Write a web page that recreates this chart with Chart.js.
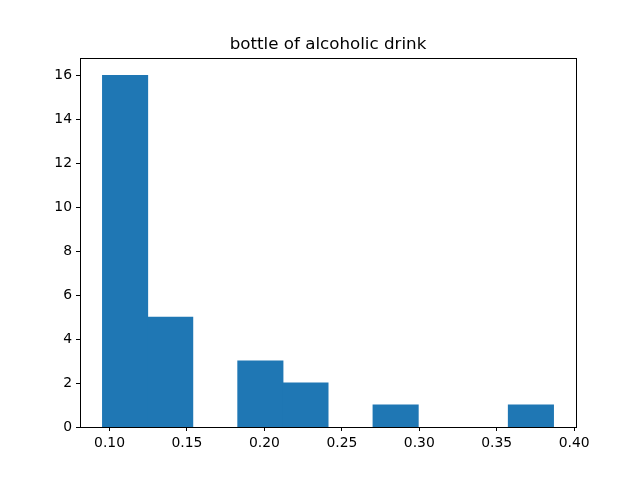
<!DOCTYPE html>
<html>
<head>
<meta charset="utf-8">
<script src="https://cdn.jsdelivr.net/npm/chart.js@4"></script>
<style>
html,body{margin:0;padding:0;background:#fff;}
#wrap{width:640px;height:480px;}
</style>
</head>
<body>
<div id="wrap"><canvas id="c" width="640" height="480"></canvas></div>
<script>
const titleText = "bottle of alcoholic drink";
const binStart = 0.09547;
const binWidth = 0.029115;
const counts = [16, 5, 0, 3, 2, 0, 1, 0, 0, 1];
const xTicks = [0.10, 0.15, 0.20, 0.25, 0.30, 0.35, 0.40];
const yTicks = [0, 2, 4, 6, 8, 10, 12, 14, 16];

const binCenters = counts.map((_, i) => binStart + binWidth * (i + 0.5));
const dataPts = counts.map((c, i) => ({x: binCenters[i], y: c === 0 ? null : c}));
const span = binWidth * counts.length;
const xMin = binStart - 0.05 * span;
const xMax = binStart + span + 0.05 * span;
const yMax = Math.max(...counts) * 1.05;

const frame = {
  id: 'frame',
  afterDraw(chart) {
    const {ctx, chartArea: a} = chart;
    ctx.save();
    ctx.strokeStyle = '#000';
    ctx.lineWidth = 1;
    ctx.strokeRect(Math.round(a.left) + 0.5, Math.round(a.top) + 0.5, Math.round(a.right - a.left), Math.round(a.bottom - a.top));
    ctx.fillStyle = '#000';
    ctx.font = '16.7px "DejaVu Sans"';
    ctx.textAlign = 'center';
    ctx.textBaseline = 'alphabetic';
    ctx.fillText(titleText, (a.left + a.right) / 2, 49);
    ctx.restore();
  }
};

const tickFont = {family: '"DejaVu Sans"', size: 13.9};

new Chart(document.getElementById('c'), {
  type: 'bar',
  data: {
    datasets: [{
      data: dataPts,
      backgroundColor: '#1f77b4',
      borderWidth: 0,
      inflateAmount: 0.5,
      barPercentage: 1.0,
      categoryPercentage: 1.0
    }]
  },
  options: {
    responsive: false,
    animation: false,
    devicePixelRatio: 1,
    layout: {padding: {left: 0, right: 64, top: 58, bottom: 0}},
    plugins: {legend: {display: false}, tooltip: {enabled: false}, title: {display: false}},
    scales: {
      x: {
        type: 'linear',
        min: xMin,
        max: xMax,
        offset: false,
        afterBuildTicks: s => { s.ticks = xTicks.map(v => ({value: v})); },
        afterFit: s => { s.height = 53; },
        ticks: {
          color: '#000',
          font: tickFont,
          padding: 4,
          maxRotation: 0,
          autoSkip: false,
          callback: v => Number(v).toFixed(2)
        },
        grid: {offset: false, drawOnChartArea: false, drawTicks: true, tickLength: 4, color: '#000', tickWidth: 1},
        border: {display: true, color: '#000', width: 1}
      },
      y: {
        type: 'linear',
        min: 0,
        max: yMax,
        afterBuildTicks: s => { s.ticks = yTicks.map(v => ({value: v})); },
        afterFit: s => { s.width = 80; },
        ticks: {
          color: '#000',
          font: tickFont,
          padding: 4,
          autoSkip: false
        },
        grid: {drawOnChartArea: false, drawTicks: true, tickLength: 4, color: '#000', tickWidth: 1},
        border: {display: true, color: '#000', width: 1}
      }
    }
  },
  plugins: [frame]
});
</script>
</body>
</html>
